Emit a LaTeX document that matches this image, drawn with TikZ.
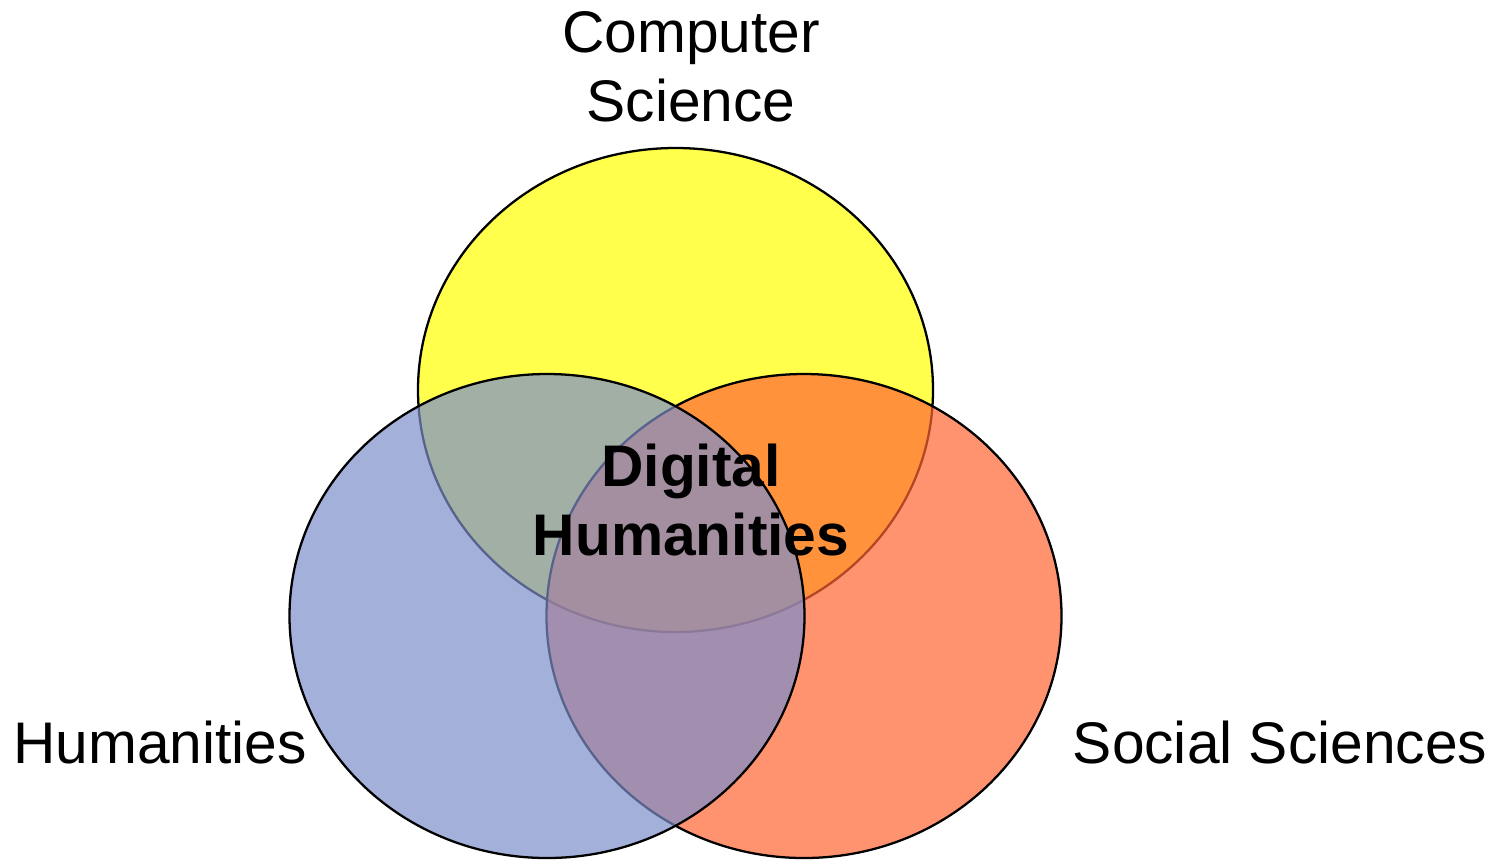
\documentclass[tikz,border=0pt]{standalone}
\usepackage{fontspec}
\setmainfont{Liberation Sans}
\usetikzlibrary{shapes.geometric}

\definecolor{csyellow}{RGB}{255,255,0}
\definecolor{socorange}{RGB}{255,100,50}
\definecolor{humblue}{RGB}{124,142,202}

\begin{document}
\begin{tikzpicture}[
    field/.style={draw=black, ellipse, line width=0.65pt,
                  minimum width=5.15cm, minimum height=4.84cm,
                  inner sep=0pt, fill opacity=0.7},
    label/.style={font=\fontsize{16.7}{19.6}\selectfont, align=center, inner sep=0pt},
    core/.style={label, font=\fontsize{16.7}{19.6}\selectfont\bfseries}]
  \useasboundingbox (0,0) rectangle (14.96,8.59);

  % the three fields
  \node[field, fill=csyellow] (cs) at (6.755,4.69) {};
  \node[field, fill=socorange] (soc) at (8.04,2.43) {};
  \node[field, fill=humblue] (hum) at (5.47,2.43) {};

  % labels
  \node[label] (cslabel) at (6.91,7.92) {Computer\\Science};
  \node[label] (humlabel) at (1.60,1.16) {Humanities};
  \node[label] (soclabel) at (12.80,1.16) {Social Sciences};
  \node[core] (dh) at (6.91,3.59) {Digital\\Humanities};
\end{tikzpicture}
\end{document}
